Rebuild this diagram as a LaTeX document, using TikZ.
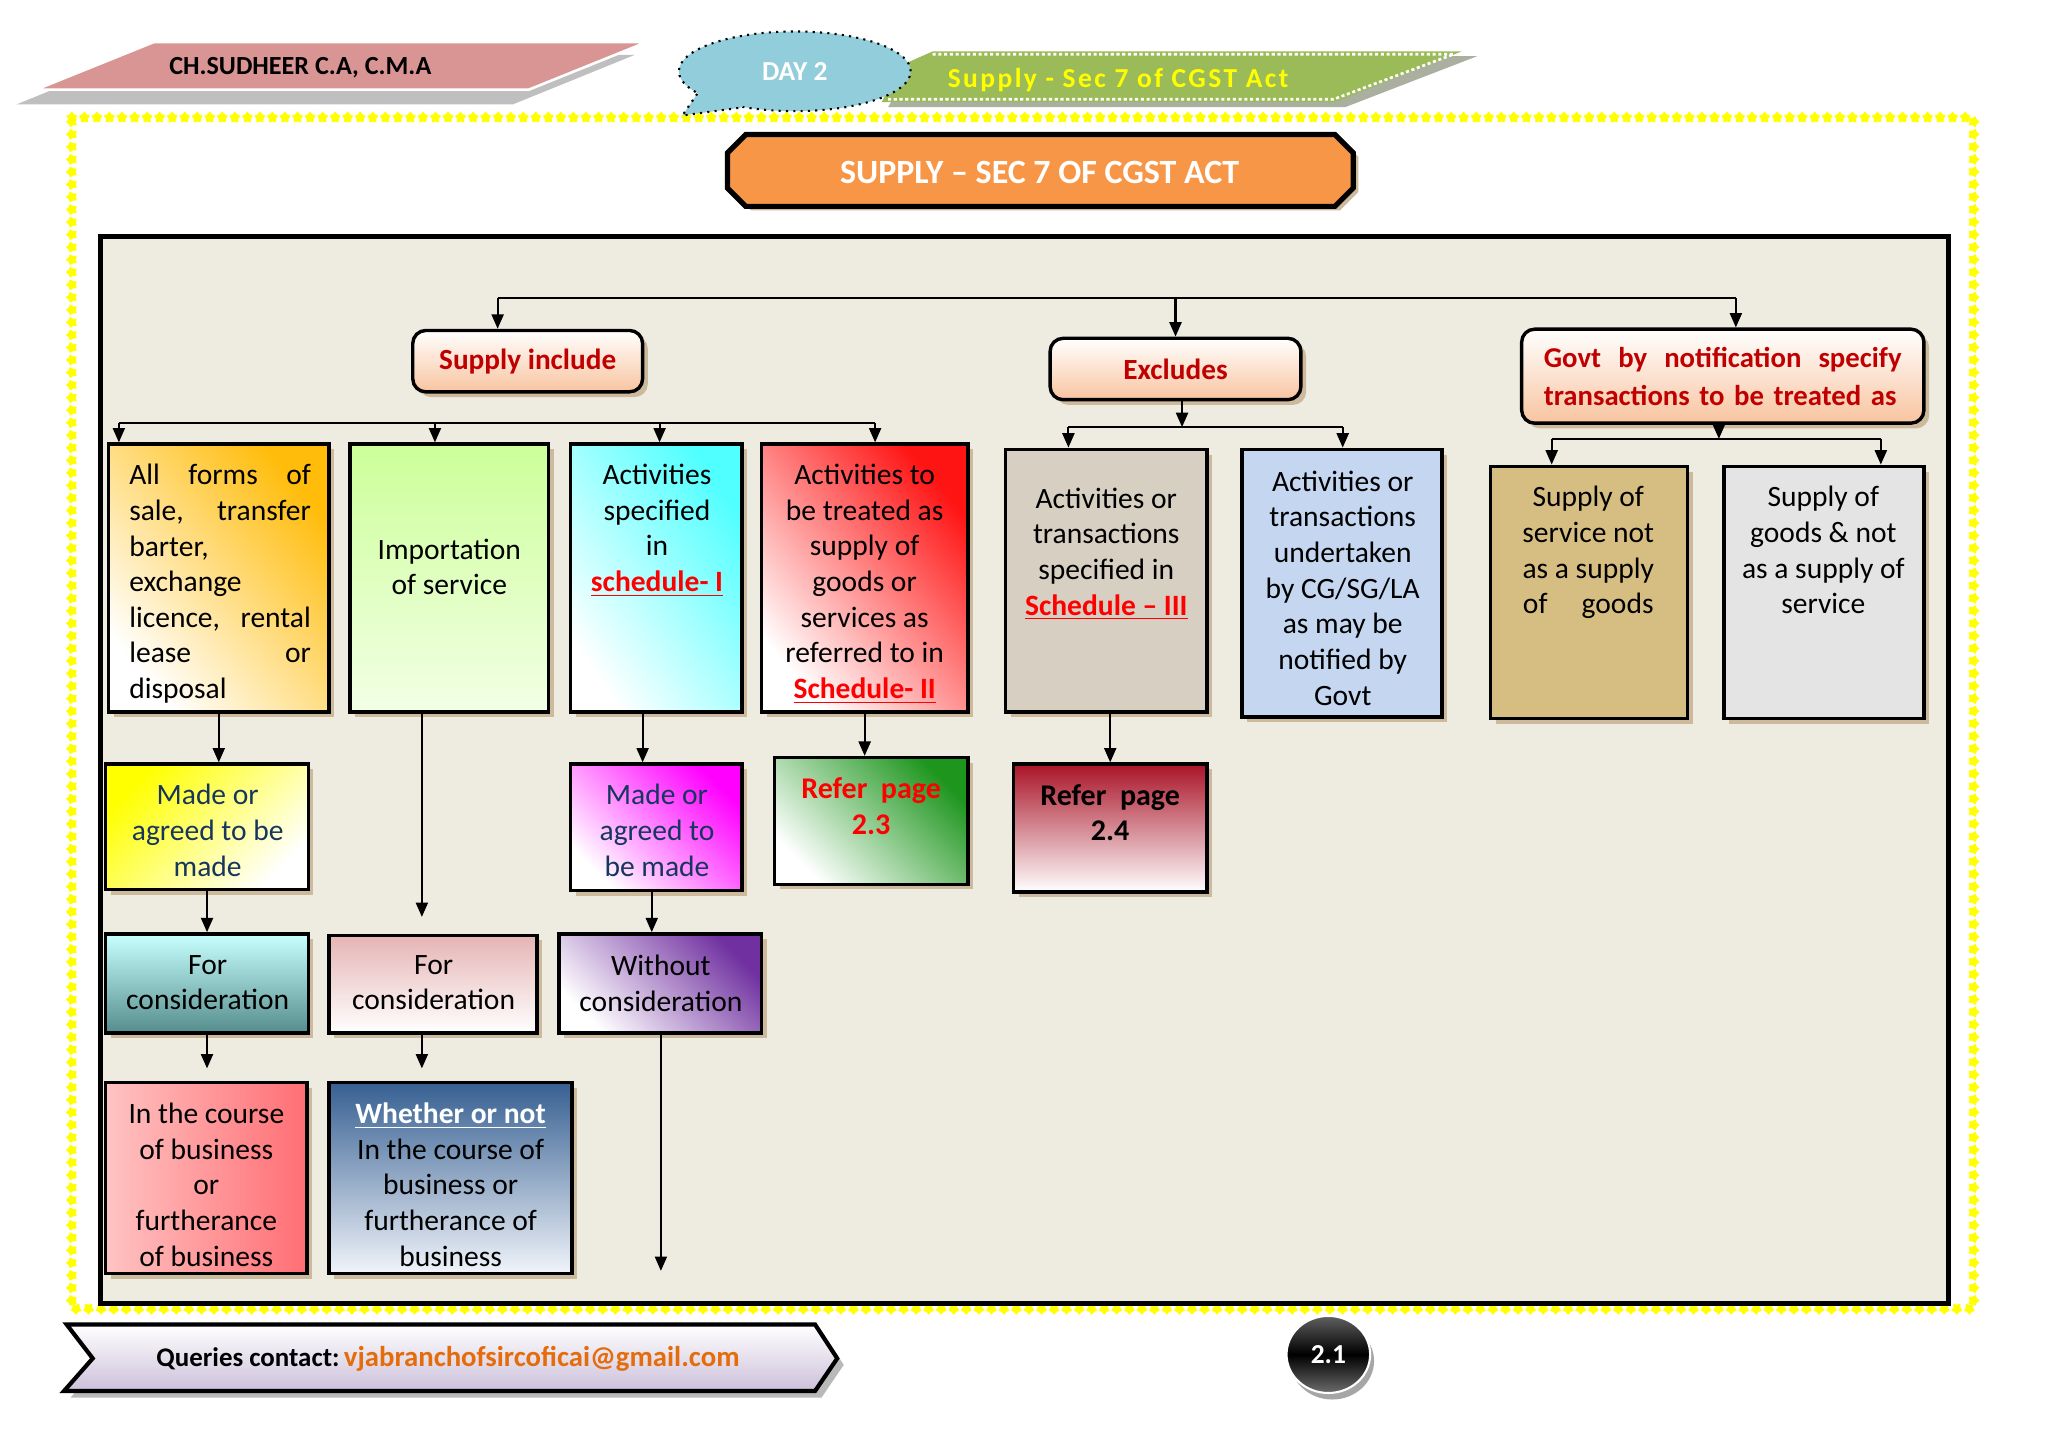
\documentclass[tikz,border=0pt]{standalone}
\usepackage{fontspec}
\setmainfont{Carlito}
\usetikzlibrary{arrows.meta,shapes.misc,shapes.geometric,shadows,decorations.shapes,calc}
\definecolor{framebg}{RGB}{238,236,225}
\definecolor{peach}{RGB}{248,196,160}
\definecolor{dred}{RGB}{192,0,0}
\definecolor{schred}{RGB}{255,0,0}
\definecolor{shtan}{RGB}{205,185,155}
\definecolor{orng}{RGB}{255,188,10}
\definecolor{lgreen}{RGB}{204,255,153}
\definecolor{cyanx}{RGB}{80,255,255}
\definecolor{redx}{RGB}{255,20,20}
\definecolor{beigex}{RGB}{214,207,194}
\definecolor{lbluex}{RGB}{196,214,240}
\definecolor{papy}{RGB}{214,190,130}
\definecolor{lgrayx}{RGB}{228,228,228}
\definecolor{yelx}{RGB}{255,255,0}
\definecolor{magx}{RGB}{255,0,255}
\definecolor{grnx}{RGB}{30,150,30}
\definecolor{winex}{RGB}{170,20,40}
\definecolor{ltcyan}{RGB}{200,255,255}
\definecolor{tealx}{RGB}{85,140,140}
\definecolor{pinkx}{RGB}{230,180,180}
\definecolor{purpx}{RGB}{112,48,160}
\definecolor{salmonL}{RGB}{255,195,195}
\definecolor{salmonR}{RGB}{255,110,115}
\definecolor{steelx}{RGB}{55,96,146}
\definecolor{steelL}{RGB}{240,244,250}
\definecolor{navyx}{RGB}{23,54,93}
\definecolor{ttl}{RGB}{247,150,70}
\definecolor{bub}{RGB}{146,205,220}
\definecolor{oliv}{RGB}{155,187,89}
\definecolor{olivsh}{RGB}{170,175,160}
\definecolor{hpink}{RGB}{217,149,148}
\definecolor{hgray}{RGB}{191,191,191}
\definecolor{lavx}{RGB}{204,192,218}
\definecolor{mailx}{RGB}{228,108,10}
\definecolor{ylw}{RGB}{255,255,0}
\begin{document}
\begin{tikzpicture}[x=0.5pt,y=-0.5pt,
  box/.style={draw=black, line width=1.3pt, inner sep=0pt,
    drop shadow={shadow xshift=2pt, shadow yshift=-2pt, fill=shtan, opacity=1}},
  hbox/.style={box, rounded corners=5pt, top color=white, bottom color=peach,
    text=dred, font=\fontsize{11.2}{14.5}\selectfont\bfseries},
  txt/.style={inner sep=0pt, anchor=north, align=center, yshift=-1.5pt, font=\fontsize{11.3}{13.65}\selectfont},
  ln/.style={line width=0.8pt},
  arr/.style={line width=0.8pt, -{Triangle[length=5.5pt,width=4.6pt]}}]
\useasboundingbox (0,0) rectangle (1568,1108.6);

% star border
\path[decorate, decoration={shape backgrounds, shape=star, shape size=4.2pt, shape sep=4.8pt}, fill=ylw]
  (55,90) -- (1511,90) -- (1511,1002) -- (55,1002) -- cycle;

% main frame
\node[draw=black, line width=2pt, fill=framebg, minimum width=707.5pt, minimum height=408.5pt, inner sep=0pt] (frame) at (784.5,589.5) {};

% header: author banner
\fill[hgray] (12.5,80) -- (392.5,80) -- (486,42) -- (106,42) -- cycle;
\draw[white, line width=1pt, fill=hpink] (27.5,68.6) -- (405,68.6) -- (495,32.3) -- (117.5,32.3) -- cycle;
\node[font=\fontsize{10}{12}\selectfont\bfseries] (hdr) at (230,52) {CH.SUDHEER C.A, C.M.A};

% header: green banner
\fill[olivsh] (696,54) -- (720,43) -- (1131,43) -- (1030,82) -- (680,82) -- cycle;
\fill[oliv] (690,50) -- (714,39.4) -- (1119,39.4) -- (1022,78.2) -- (675,78.2) -- cycle;
\draw[white, line width=1pt, dash pattern=on 1.2pt off 1pt] (714,41.5) -- (1113,41.5) -- (1021,76) -- (680,76);
\node[text=ylw, font=\fontsize{10.5}{12}\selectfont\bfseries\addfontfeatures{LetterSpace=9}] (sub) at (856,61) {Supply - Sec 7 of CGST Act};

% header: DAY bubble
\node[ellipse, minimum width=88.75pt, minimum height=30.5pt, fill=bub, draw=black, dotted, line width=0.8pt, inner sep=0pt,
  text=white, font=\fontsize{10.5}{12}\selectfont\bfseries] (DAY) at (608.5,54.6) {DAY 2};
\coordinate (tip) at (522.5,88.4);
\fill[bub] (tip) -- (DAY.193) -- ($(DAY.193)!0.15!(DAY.center)$) -- ($(DAY.214)!0.15!(DAY.center)$) -- (DAY.214) -- cycle;
\draw[dotted, line width=0.8pt] (DAY.193) -- (tip) -- (DAY.214);

% title
\fill[shtan] (561,120) -- (575,106) -- (1026,106) -- (1040,120) -- (1040,147) -- (1026,161) -- (575,161) -- (561,147) -- cycle;
\draw[line width=2pt, fill=ttl] (557,117) -- (571,103) -- (1022,103) -- (1036,117) -- (1036,144) -- (1022,158) -- (571,158) -- (557,144) -- cycle;
\node[text=white, font=\fontsize{13}{15}\selectfont\bfseries] (title) at (796,132) {SUPPLY – SEC 7 OF CGST ACT};

% level 1 heads
\node[hbox, minimum width=88pt, minimum height=23.5pt] (SI) at (404,276.5) {Supply include};
\node[hbox, minimum width=96pt, minimum height=23.5pt] (EX) at (900,282.5) {Excludes};
\node[hbox, minimum width=154pt, minimum height=36pt, text width=137pt, inner xsep=8.5pt, align=left,
  font=\fontsize{11}{14.5}\selectfont\bfseries] (GV) at (1319,288)
  {Govt\hfill by\hfill notification\hfill specify\\transactions to be treated as};

% row 1 boxes
\node[box, minimum width=84.5pt, minimum height=102.5pt, top color=orng, bottom color=white, shading angle=-50] (A1) at (167.5,442.5) {};
\node[box, minimum width=76pt, minimum height=102.5pt, top color=lgreen, bottom color=lgreen!25!white] (A2) at (344,442.5) {};
\node[box, minimum width=65.5pt, minimum height=102.5pt, top color=cyanx, bottom color=white, shading angle=-55] (A3) at (502.5,442.5) {};
\node[box, minimum width=79pt, minimum height=102.5pt, top color=redx, bottom color=white, shading angle=-50] (A4) at (662,442.5) {};
\node[box, minimum width=77pt, minimum height=100.5pt, fill=beigex] (B1) at (847,444.5) {};
\node[box, minimum width=76.5pt, minimum height=102.5pt, fill=lbluex] (B2) at (1027.5,446.5) {};
\node[box, minimum width=75.5pt, minimum height=96.5pt, fill=papy] (C1) at (1216.5,453.5) {};
\node[box, minimum width=76.5pt, minimum height=96.5pt, fill=lgrayx] (C2) at (1396.5,453.5) {};

% row 2 boxes
\node[box, minimum width=77.5pt, minimum height=48pt, top color=yelx, bottom color=white, shading angle=45] (M1) at (158.5,633) {};
\node[box, minimum width=65.5pt, minimum height=48.5pt, top color=magx, bottom color=white, shading angle=-45] (M2) at (502.5,633.5) {};
\node[box, minimum width=74pt, minimum height=48.5pt, top color=grnx, bottom color=white, shading angle=-45] (R3) at (667,628.5) {};
\node[box, minimum width=74pt, minimum height=49pt, top color=winex, bottom color=white] (R4) at (850,634) {};

% row 3 boxes
\node[box, minimum width=77.5pt, minimum height=38pt, top color=ltcyan, bottom color=tealx] (F1) at (158.5,753) {};
\node[box, minimum width=79.5pt, minimum height=37.5pt, top color=pinkx, bottom color=white] (F2) at (331.5,753.5) {};
\node[box, minimum width=77.5pt, minimum height=38pt, top color=purpx, bottom color=white, shading angle=-45] (W) at (505.5,753) {};

% row 4 boxes
\node[box, minimum width=77pt, minimum height=73pt, left color=salmonL, right color=salmonR] (IC) at (158,902) {};
\node[box, minimum width=93pt, minimum height=73pt, top color=steelx, bottom color=steelL] (WN) at (345,902) {};

% texts
\node[txt, text width=69.5pt, align=left] (A1t) at (168.5,352) {All\hfill forms\hfill of\\sale,\hfill transfer\\barter,\\exchange\\licence,\hfill rental\\lease\hfill or\\disposal};
\node[txt] (A2t) at (344,409) {Importation\\of service};
\node[txt] (A3t) at (503,352) {Activities\\specified\\in\\\textcolor{schred}{\bfseries\underline{schedule- I}}};
\node[txt] (A4t) at (662,352) {Activities to\\be treated as\\supply of\\goods or\\services as\\referred to in\\\textcolor{schred}{\bfseries\underline{Schedule- II}}};
\node[txt] (B1t) at (847,370) {Activities or\\transactions\\specified in\\\textcolor{schred}{\bfseries\underline{Schedule – III}}};
\node[txt] (B2t) at (1028,357) {Activities or\\transactions\\undertaken\\by CG/SG/LA\\as may be\\notified by\\Govt};
\node[txt] (C1t) at (1216,369) {Supply of\\service not\\as a supply\\\makebox[50pt]{of\hfill goods}};
\node[txt] (C2t) at (1396,369) {Supply of\\goods \& not\\as a supply of\\service};
\node[txt, text=navyx] (M1t) at (159,597) {Made or\\agreed to be\\made};
\node[txt, text=navyx] (M2t) at (503,597) {Made or\\agreed to\\be made};
\node[txt, text=schred, font=\fontsize{11.5}{13.65}\selectfont\bfseries] (R3t) at (667,592) {Refer\ \ page\\2.3};
\node[txt, font=\fontsize{11.5}{13.65}\selectfont\bfseries] (R4t) at (850,597) {Refer\ \ page\\2.4};
\node[txt] (F1t) at (159,728) {For\\consideration};
\node[txt] (F2t) at (332,728) {For\\consideration};
\node[txt] (Wt) at (506,728) {Without\\consideration};
\node[txt] (ICt) at (158,841) {In the course\\of business\\or\\furtherance\\of business};
\node[txt] (WNt) at (345,841) {\textcolor{white}{\bfseries\underline{Whether or not}}\\In the course of\\business or\\furtherance of\\business};

% connectors: top
\coordinate (t1) at (381,228);
\coordinate (t2) at (900,228);
\coordinate (t3) at (1329,228);
\draw[ln] (t1) -- (t3);
\draw[arr] (t1) -- (t1 |- SI.north);
\draw[arr] (t2) -- (t2 |- EX.north);
\draw[arr] (t3) -- (t3 |- GV.north);

% supply include branch
\coordinate (r1a) at (91,324);
\coordinate (r1b) at (333,324);
\coordinate (r1c) at (505,324);
\coordinate (r1d) at (670,324);
\draw[ln] (r1a) -- (r1d);
\draw[arr] (r1a) -- (r1a |- A1.north);
\draw[arr] (r1b) -- (r1b |- A2.north);
\draw[arr] (r1c) -- (r1c |- A3.north);
\draw[arr] (r1d) -- (r1d |- A4.north);

% excludes branch
\coordinate (e0) at (905,327);
\coordinate (e1) at (818,327);
\coordinate (e2) at (1028,327);
\draw[arr] (e0 |- EX.south) -- (e0);
\draw[ln] (e1) -- (e2);
\draw[arr] (e1) -- (e1 |- B1.north);
\draw[arr] (e2) -- (e2 |- B2.north);

% govt branch
\coordinate (g0) at (1316,336);
\coordinate (g1) at (1188,336);
\coordinate (g2) at (1440,336);
\draw[arr] (g0 |- GV.south) -- (g0);
\draw[ln] (g1) -- (g2);
\draw[arr] (g1) -- (g1 |- C1.north);
\draw[arr] (g2) -- (g2 |- C2.north);

% lower chains
\coordinate (a2e) at (323,702);
\coordinate (a3x) at (492,560);
\coordinate (m2x) at (499,700);
\coordinate (f1e) at (158.5,818);
\coordinate (f2e) at (323,818);
\coordinate (we) at (506,973);
\draw[arr] (A1.south) -- (A1.south |- M1.north);
\draw[arr] (a2e |- A2.south) -- (a2e);
\draw[arr] (a3x |- A3.south) -- (a3x |- M2.north);
\draw[arr] (A4.south) -- (A4.south |- R3.north);
\draw[arr] (R4.north |- B1.south) -- (R4.north);
\draw[arr] (M1.south) -- (F1.north);
\draw[arr] (m2x |- M2.south) -- (m2x |- W.north);
\draw[arr] (F1.south) -- (f1e);
\draw[arr] (f2e |- F2.south) -- (f2e);
\draw[arr] (we |- W.south) -- (we);

% footer
\fill[gray!55] (56,1019) -- (629,1019) -- (646,1045) -- (629,1070) -- (54,1070) -- (76,1045) -- cycle;
\draw[line width=1.6pt, top color=white, bottom color=lavx] (51,1014) -- (624,1014) -- (641,1040) -- (624,1065) -- (49,1065) -- (71,1040) -- cycle;
\node[font=\fontsize{10.3}{12}\selectfont\bfseries] (foot) at (343,1040) {Queries contact:\,\textcolor{mailx}{\fontsize{11}{12}\selectfont vjabranchofsircoficai@gmail.com}};

% page number
\node[ellipse, minimum width=32pt, minimum height=29.5pt, draw=white, line width=0.8pt,
  top color=gray!75!black, bottom color=gray!85!black, middle color=black,
  drop shadow={shadow xshift=1.5pt, shadow yshift=-2.5pt, fill=gray!70, opacity=1},
  text=white, font=\fontsize{10.5}{12}\selectfont\bfseries] (pg) at (1017,1037) {2.1};
\end{tikzpicture}
\end{document}
